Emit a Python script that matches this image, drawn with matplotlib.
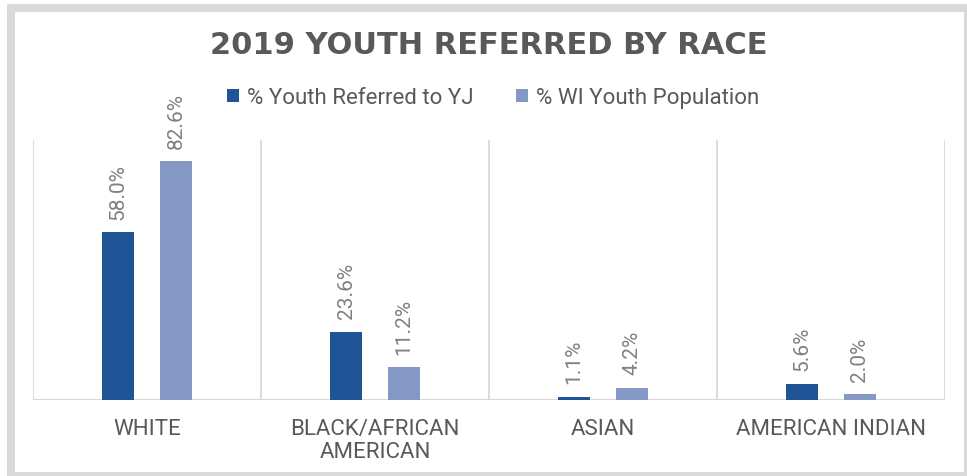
import matplotlib
matplotlib.use("Agg")
import matplotlib.pyplot as plt
from matplotlib.patches import Rectangle, Patch
import numpy as np

categories = ["WHITE", "BLACK/AFRICAN\nAMERICAN", "ASIAN", "AMERICAN INDIAN"]
referred = [58.0, 23.6, 1.1, 5.6]
population = [82.6, 11.2, 4.2, 2.0]
series_names = ["% Youth Referred to YJ", "% WI Youth Population"]
title = "2019 YOUTH REFERRED BY RACE"

dark = "#1f5597"
light = "#8598c5"
grid_c = "#d9d9d9"
txt_c = "#595959"
lab_c = "#808080"

fig = plt.figure(figsize=(9.67, 4.77), dpi=100)
fig.patch.set_facecolor("white")

# outer frame
W, H = 967, 477
frame = Rectangle((11 / W, 0), (968 - 11) / W, (477 - 9) / H,
                  transform=fig.transFigure, fill=False, edgecolor=grid_c,
                  linewidth=8 * 72 / 100, zorder=0)
fig.patches.append(frame)

ax = fig.add_axes([33 / W, (477 - 400.7) / H, 912 / W, 259.7 / H])
ax.set_xlim(-0.5, 3.5)
ax.set_ylim(0, 90)
for s in ax.spines.values():
    s.set_visible(False)

x = np.arange(len(categories))
off = 0.127
bw = 0.14
b1 = ax.bar(x - off, referred, bw, color=dark, zorder=3)
b2 = ax.bar(x + off, population, bw, color=light, zorder=3)

for bars, vals in ((b1, referred), (b2, population)):
    for r, v in zip(bars, vals):
        ax.annotate(f"{v:.1f}%", (r.get_x() + r.get_width() / 2, r.get_height()),
                    xytext=(0, 9.5), textcoords="offset points", rotation=90,
                    ha="center", va="bottom", fontsize=15, color=lab_c,
                    family="Roboto")

# separators and baseline
for sx in np.arange(-0.5, 4.0, 1.0):
    ax.axvline(sx, color=grid_c, lw=1.3, zorder=1)
ax.axhline(0, color=grid_c, lw=1.5, zorder=2)

ax.set_yticks([])
ax.set_xticks(x)
ax.set_xticklabels(categories, fontsize=16, color=txt_c, family="Roboto",
                   linespacing=1.15)
ax.tick_params(axis="x", length=0, pad=13)

fig.text(489 / W, 1 - 46 / H, title, ha="center", va="center", fontsize=22,
         fontweight="bold", color=txt_c, family="DejaVu Sans")

handles = [Patch(facecolor=dark), Patch(facecolor=light)]
leg = fig.legend(handles, series_names, loc="center", bbox_to_anchor=(493 / W, 1 - 99 / H),
                 ncol=2, frameon=False, prop={"family": "Roboto", "size": 16},
                 handlelength=0.55, handleheight=0.55, handletextpad=0.35,
                 columnspacing=1.9, borderaxespad=0)
for t in leg.get_texts():
    t.set_color(txt_c)

fig.savefig("out.png", dpi=100, facecolor="white")
